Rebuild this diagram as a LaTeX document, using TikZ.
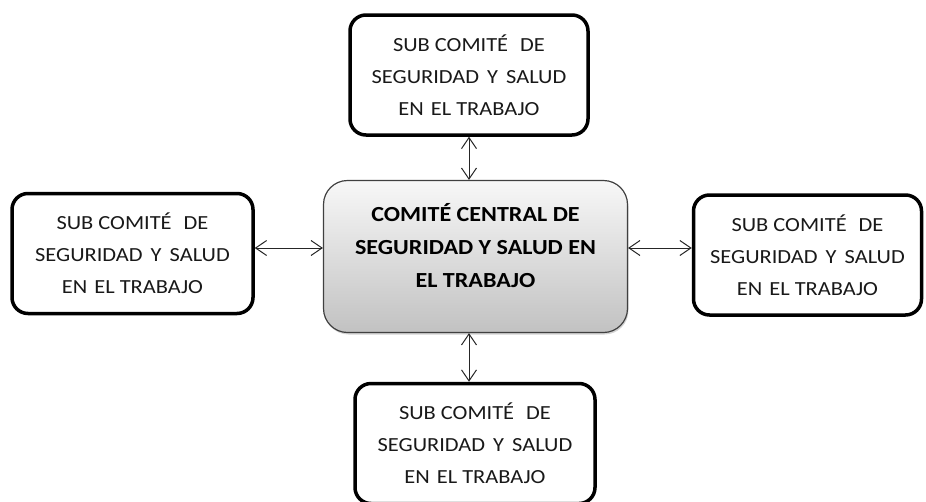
\documentclass[tikz,border=0pt]{standalone}
\usepackage{fontspec}
\setmainfont{Carlito}[FakeStretch=1.12]
\usetikzlibrary{arrows.meta,shadows}
\begin{document}
\begin{tikzpicture}[x=1pt,y=-1pt,
  sub/.style={draw=black, line width=3.5pt, rounded corners=16pt, fill=white,
    align=center, inner sep=0pt, font=\fontsize{20}{32}\selectfont, text=black!90},
  central/.style={draw=black!75, line width=1.2pt, rounded corners=24pt,
    top color=white!97!black, bottom color=black!24,
    drop shadow={opacity=0.35, shadow xshift=1pt, shadow yshift=-2pt},
    align=center, inner sep=0pt, font=\fontsize{21.5}{33}\selectfont\bfseries, text=black},
  link/.style={{Straight Barb[length=11pt,width=15pt]}-{Straight Barb[length=11pt,width=15pt]},
    line width=1pt, draw=black!85}]
\useasboundingbox (0,0) rectangle (926,501);
\node[central, minimum width=304pt, minimum height=152pt] (ctr) at (475.5,256.5)
  {COMITÉ CENTRAL DE\\SEGURIDAD Y SALUD EN\\EL TRABAJO\\[-11pt]};
\node[sub, minimum width=238pt, minimum height=120pt] (top) at (469,75)
  {SUB COMITÉ\hspace{0.35em} DE\\SEGURIDAD\hspace{0.15em} Y\hspace{0.15em} SALUD\\EN\hspace{0.1em} EL TRABAJO};
\node[sub, minimum width=241pt, minimum height=120pt] (lft) at (132.5,253.5)
  {SUB COMITÉ\hspace{0.35em} DE\\SEGURIDAD\hspace{0.15em} Y\hspace{0.15em} SALUD\\EN\hspace{0.1em} EL TRABAJO};
\node[sub, minimum width=228pt, minimum height=120pt] (rgt) at (807.5,255)
  {SUB COMITÉ\hspace{0.35em} DE\\SEGURIDAD\hspace{0.15em} Y\hspace{0.15em} SALUD\\EN\hspace{0.1em} EL TRABAJO};
\node[sub, minimum width=240pt, minimum height=120pt] (bot) at (475,443.5)
  {SUB COMITÉ\hspace{0.35em} DE\\SEGURIDAD\hspace{0.15em} Y\hspace{0.15em} SALUD\\EN\hspace{0.1em} EL TRABAJO};
\coordinate (hy) at (0,248);
\coordinate (vx) at (469,0);
\draw[link] (top.south) -- (top.south |- ctr.north);
\draw[link] (ctr.south -| vx) -- (bot.north -| vx);
\draw[link] (lft.east |- hy) -- (ctr.west |- hy);
\draw[link] (ctr.east |- hy) -- (rgt.west |- hy);
\end{tikzpicture}
\end{document}
